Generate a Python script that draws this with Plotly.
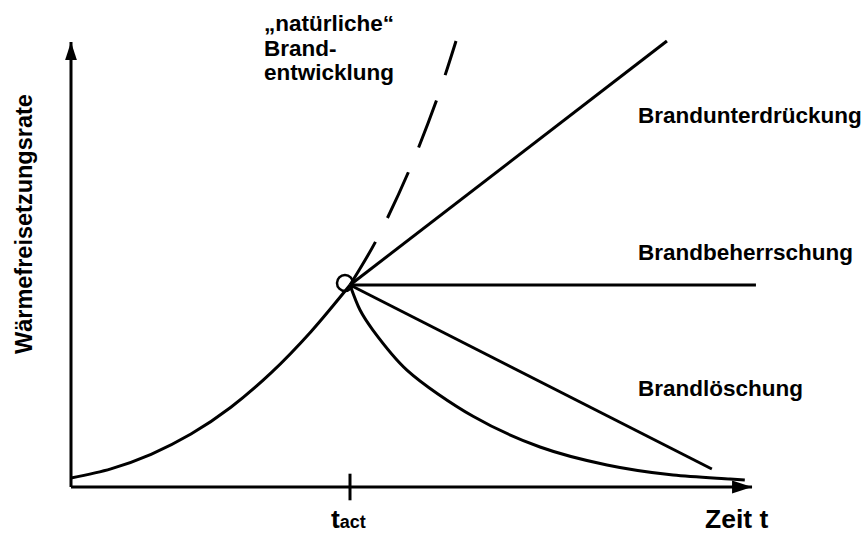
import plotly.graph_objects as go

# ---------------- data (t normalised so that t_act = 1, Q normalised so that Q(t_act) = 1)
T_ACT = 1.0
Q_ACT = 1.0

# growth phase up to activation
growth_t = [0.0, 0.143, 0.287, 0.430, 0.573, 0.717, 0.860, 1.0]
growth_q = [0.045, 0.090, 0.162, 0.262, 0.395, 0.565, 0.769, 1.0]

# "natürliche" Brandentwicklung (dashed)
natural_t = [1.0, 1.093, 1.211, 1.312, 1.380]
natural_q = [1.0, 1.218, 1.564, 1.921, 2.208]

# Brandunterdrückung (straight, rising slower)
suppress_t = [1.0, 2.136]
suppress_q = [1.0, 2.208]

# Brandbeherrschung (constant)
control_t = [1.0, 2.455]
control_q = [1.0, 1.0]

# Brandlöschung (linear decrease)
ext_lin_t = [1.0, 2.297]
ext_lin_q = [1.0, 0.089]

# Brandlöschung (exponential-like decrease)
ext_exp_t = [1.0, 1.036, 1.082, 1.204, 1.441, 1.681, 1.921, 2.158, 2.362, 2.415]
ext_exp_q = [1.0, 0.876, 0.777, 0.579, 0.350, 0.198, 0.109, 0.059, 0.040, 0.035]

# activation marker circle
circle_t = [0.982]
circle_q = [1.01]

# axis extents (arrow tips)
T_TIP = 2.441
Q_TIP = 2.203

# labels
y_title = "Wärmefreisetzungsrate"
x_title = "Zeit t"
natural_label = ["„natürliche“", "Brand-", "entwicklung"]
label_suppress = "Brandunterdrückung"
label_control = "Brandbeherrschung"
label_ext = "Brandlöschung"

# ---------------- figure geometry helpers (pixel -> data)
W, H = 865, 535
PX0, PXS = 71, 279.0   # pixel of t=0, pixels per unit t
PY0, PYS = 487, 202.0  # pixel of Q=0, pixels per unit Q


def X(px):
    return (px - PX0) / PXS


def Y(py):
    return (PY0 - py) / PYS


BLACK = "#000000"
LW = 3
FONT = "Liberation Sans, Arial, sans-serif"

fig = go.Figure()


def line(t, q, dash=None, shape="linear", width=LW):
    fig.add_trace(go.Scatter(
        x=t, y=q, mode="lines",
        line=dict(color=BLACK, width=width, dash=dash, shape=shape, smoothing=0.9),
        hoverinfo="skip", showlegend=False))


# axes
line([0, 0], [0, Q_TIP])
line([0, T_TIP], [0, 0])
fig.add_trace(go.Scatter(x=[0], y=[Q_TIP], mode="markers",
                         marker=dict(symbol="arrow", size=19, angle=0, color=BLACK,
                                     line=dict(width=0)),
                         hoverinfo="skip", showlegend=False))
fig.add_trace(go.Scatter(x=[T_TIP], y=[0], mode="markers",
                         marker=dict(symbol="arrow", size=21, angle=90, color=BLACK,
                                     line=dict(width=0)),
                         hoverinfo="skip", showlegend=False))

# tick at t_act
fig.add_trace(go.Scatter(x=[T_ACT], y=[0], mode="markers",
                         marker=dict(symbol="line-ns", size=19, color=BLACK,
                                     line=dict(width=3, color=BLACK)),
                         hoverinfo="skip", showlegend=False))

# curves
line(growth_t, growth_q, shape="spline")
line(natural_t, natural_q, dash="50px,27px", shape="spline")
line(suppress_t, suppress_q)
line(control_t, control_q)
line(ext_lin_t, ext_lin_q)
line(ext_exp_t, ext_exp_q, shape="spline")

# activation circle
fig.add_trace(go.Scatter(x=circle_t, y=circle_q, mode="markers",
                         marker=dict(symbol="circle-open", size=16, color=BLACK,
                                     line=dict(width=2.5, color=BLACK)),
                         hoverinfo="skip", showlegend=False))


def text(px, py, s, size, xanchor="left", angle=0):
    fig.add_annotation(x=X(px), y=Y(py), xref="x", yref="y", text=s,
                       showarrow=False, xanchor=xanchor, yanchor="middle",
                       textangle=angle,
                       font=dict(family=FONT, size=size, color=BLACK))


text(24, 224, f"<b>{y_title}</b>", 23.5, xanchor="center", angle=-90)
for (py, s) in zip([23, 48, 72], natural_label):
    text(262, py, f"<b>{s}</b>", 22.5)
text(636, 115, f"<b>{label_suppress}</b>", 22.5)
text(636, 252, f"<b>{label_control}</b>", 22.5)
text(636, 388, f"<b>{label_ext}</b>", 22.5)
text(736, 519, f"<b>{x_title}</b>", 26.5, xanchor="center")
text(329, 519, "<b>t<span style='font-size:18px'>act</span></b>", 26.5)

fig.update_layout(
    width=W, height=H,
    margin=dict(l=0, r=0, t=0, b=0),
    paper_bgcolor="white", plot_bgcolor="white",
    xaxis=dict(range=[X(0), X(W)], visible=False, fixedrange=True),
    yaxis=dict(range=[Y(H), Y(0)], visible=False, fixedrange=True),
    showlegend=False,
)

fig.write_html(
    "out.html",
    config={"displayModeBar": False},
    post_script="document.body.style.margin='0';document.body.style.overflow='hidden';",
)
